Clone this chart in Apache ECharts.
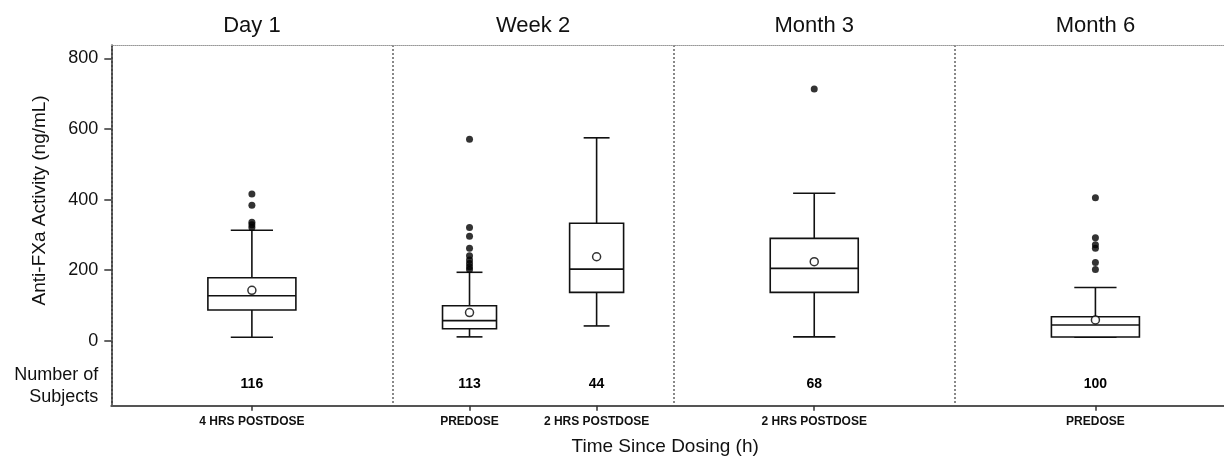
<!DOCTYPE html>
<html>
<head>
<meta charset="utf-8">
<script src="https://cdn.jsdelivr.net/npm/echarts@6/dist/echarts.min.js"></script>
<style>
  html, body { margin: 0; padding: 0; background: #fff; }
  #chart { width: 1224px; height: 458px; }
</style>
</head>
<body>
<div id="chart"></div>
<script>
// ---- data ----
const visits = ['Day 1', 'Week 2', 'Month 3', 'Month 6'];
const categories = ['4 HRS POSTDOSE', 'PREDOSE', '2 HRS POSTDOSE', '2 HRS POSTDOSE', 'PREDOSE'];
const catVisit = [0, 1, 1, 2, 3];
const whiskerLow = [10, 11, 42, 11, 10];
const q1 = [87, 34, 137, 137, 10.5];
const median = [127.5, 57, 203, 205, 44.5];
const q3 = [178.5, 99, 333, 290, 68];
const whiskerHigh = [313, 194, 575, 418, 151];
const means = [143, 80, 238, 224, 59];
const outliers = [
  [416, 384, 336, 329, 321],
  [571, 321, 296, 262, 241, 229, 219, 210, 202],
  [],
  [713],
  [405, 292, 272, 262, 222, 202]
];
const nSubjects = [116, 113, 44, 68, 100];
const yTicks = [0, 200, 400, 600, 800];

// ---- derived: slot of each category inside its visit panel ----
const perVisit = visits.map((_, v) => catVisit.filter(c => c === v).length);
const slots = categories.map((_, i) => {
  const v = catVisit[i];
  const j = catVisit.slice(0, i).filter(c => c === v).length;
  const n = perVisit[v];
  return v + 0.5 + (j - (n - 1) / 2) * 0.452;
});
function nearestIndex(val) {
  let best = 0, d = Infinity;
  slots.forEach((s, i) => { const dd = Math.abs(s - val); if (dd < d) { d = dd; best = i; } });
  return best;
}

const boxData = categories.map((_, i) => [slots[i], whiskerLow[i], q1[i], median[i], q3[i], whiskerHigh[i], perVisit[catVisit[i]]]);
const meanData = categories.map((_, i) => [slots[i], means[i]]);
const outlierData = [];
outliers.forEach((arr, i) => arr.forEach(v => outlierData.push([slots[i], v])));
const nLabelY = -124;
const nData = categories.map((_, i) => [slots[i], nLabelY, nSubjects[i]]);

const FONT = 'Liberation Sans, Arial, sans-serif';
const LINE = '#111';

const chart = echarts.init(document.getElementById('chart'), null, { renderer: 'canvas' });
chart.setOption({
  animation: false,
  backgroundColor: '#fff',
  textStyle: { fontFamily: FONT },
  grid: { left: 111.3, top: 45, bottom: 52.3, right: -12, outerBoundsMode: 'none', containLabel: false },
  xAxis: [
    {
      type: 'value', min: 0, max: 4, position: 'bottom',
      axisLine: { show: true, onZero: false, lineStyle: { color: '#555', width: 2 } },
      axisTick: { show: true, customValues: slots, length: 5, lineStyle: { color: '#333', width: 1.5 } },
      axisLabel: {
        customValues: slots, margin: 10, fontSize: 12, fontWeight: 'bold', color: '#111', fontFamily: FONT,
        formatter: v => categories[nearestIndex(v)]
      },
      splitLine: { show: false },
      name: 'Time Since Dosing (h)', nameLocation: 'middle', nameGap: 32, nameMoveOverlap: false,
      nameTextStyle: { fontSize: 19, color: '#111', fontFamily: FONT, padding: [0, 17, 0, 0] }
    },
    {
      type: 'value', min: 0, max: 4, interval: 1, position: 'top',
      axisLine: { show: true, onZero: false, lineStyle: { color: '#999', type: 'dotted', width: 1 } },
      axisTick: { show: false },
      axisLabel: {
        customValues: [0.5, 1.5, 2.5, 3.5], margin: 8, fontSize: 22, color: '#111', fontFamily: FONT,
        formatter: v => visits[Math.floor(v)]
      },
      splitLine: { show: true, lineStyle: { type: 'dotted', color: '#888', width: 2 } }
    }
  ],
  yAxis: {
    type: 'value', min: -184, max: 838,
    splitLine: { show: false },
    axisLine: { show: true, onZero: false, lineStyle: { color: '#333', width: 1.5 } },
    axisTick: { show: true, length: 7, customValues: yTicks, lineStyle: { color: '#333', width: 1.5 } },
    axisLabel: {
      customValues: [-128].concat(yTicks), margin: 13, fontSize: 18, color: '#111', fontFamily: FONT, lineHeight: 22,
      formatter: v => (v < 0 ? 'Number of\nSubjects' : String(v))
    },
    name: 'Anti-FXa Activity (ng/mL)', nameLocation: 'middle', nameGap: 62, nameRotate: 90, nameMoveOverlap: false,
    nameTextStyle: { fontSize: 19, color: '#111', fontFamily: FONT, padding: [0, 0, 0, 50] }
  },
  series: [
    {
      type: 'custom', xAxisIndex: 0, yAxisIndex: 0, data: boxData,
      renderItem: function (params, api) {
        const x = api.value(0);
        const n = api.value(6);
        const panelPx = api.size([1, 0])[0];
        const bw = (n > 1 ? 0.192 : 0.313) * panelPx;
        const cw = bw * 0.48;
        const pLow = api.coord([x, api.value(1)]);
        const pQ1 = api.coord([x, api.value(2)]);
        const pMed = api.coord([x, api.value(3)]);
        const pQ3 = api.coord([x, api.value(4)]);
        const pHigh = api.coord([x, api.value(5)]);
        const cx = pQ1[0];
        const st = { stroke: LINE, lineWidth: 1.6, fill: null };
        return {
          type: 'group',
          children: [
            { type: 'line', shape: { x1: cx, y1: pQ3[1], x2: cx, y2: pHigh[1] }, style: st },
            { type: 'line', shape: { x1: cx, y1: pQ1[1], x2: cx, y2: pLow[1] }, style: st },
            { type: 'line', shape: { x1: cx - cw / 2, y1: pHigh[1], x2: cx + cw / 2, y2: pHigh[1] }, style: st },
            { type: 'line', shape: { x1: cx - cw / 2, y1: pLow[1], x2: cx + cw / 2, y2: pLow[1] }, style: st },
            { type: 'rect', shape: { x: cx - bw / 2, y: pQ3[1], width: bw, height: pQ1[1] - pQ3[1] }, style: { stroke: LINE, lineWidth: 1.6, fill: '#fff' } },
            { type: 'line', shape: { x1: cx - bw / 2, y1: pMed[1], x2: cx + bw / 2, y2: pMed[1] }, style: st }
          ]
        };
      }
    },
    {
      type: 'scatter', data: meanData, symbol: 'circle', symbolSize: 8,
      itemStyle: { color: '#fff', borderColor: '#000', borderWidth: 1.5 }, z: 3
    },
    {
      type: 'scatter', data: outlierData, symbol: 'circle', symbolSize: 7,
      itemStyle: { color: '#000' }, z: 3
    },
    {
      type: 'custom', data: nData, silent: true,
      renderItem: function (params, api) {
        const p = api.coord([api.value(0), api.value(1)]);
        return {
          type: 'text',
          style: {
            x: p[0], y: p[1], text: String(api.value(2)),
            fill: '#000', font: 'bold 14px ' + FONT, align: 'center', verticalAlign: 'middle'
          }
        };
      }
    }
  ]
});
</script>
</body>
</html>
